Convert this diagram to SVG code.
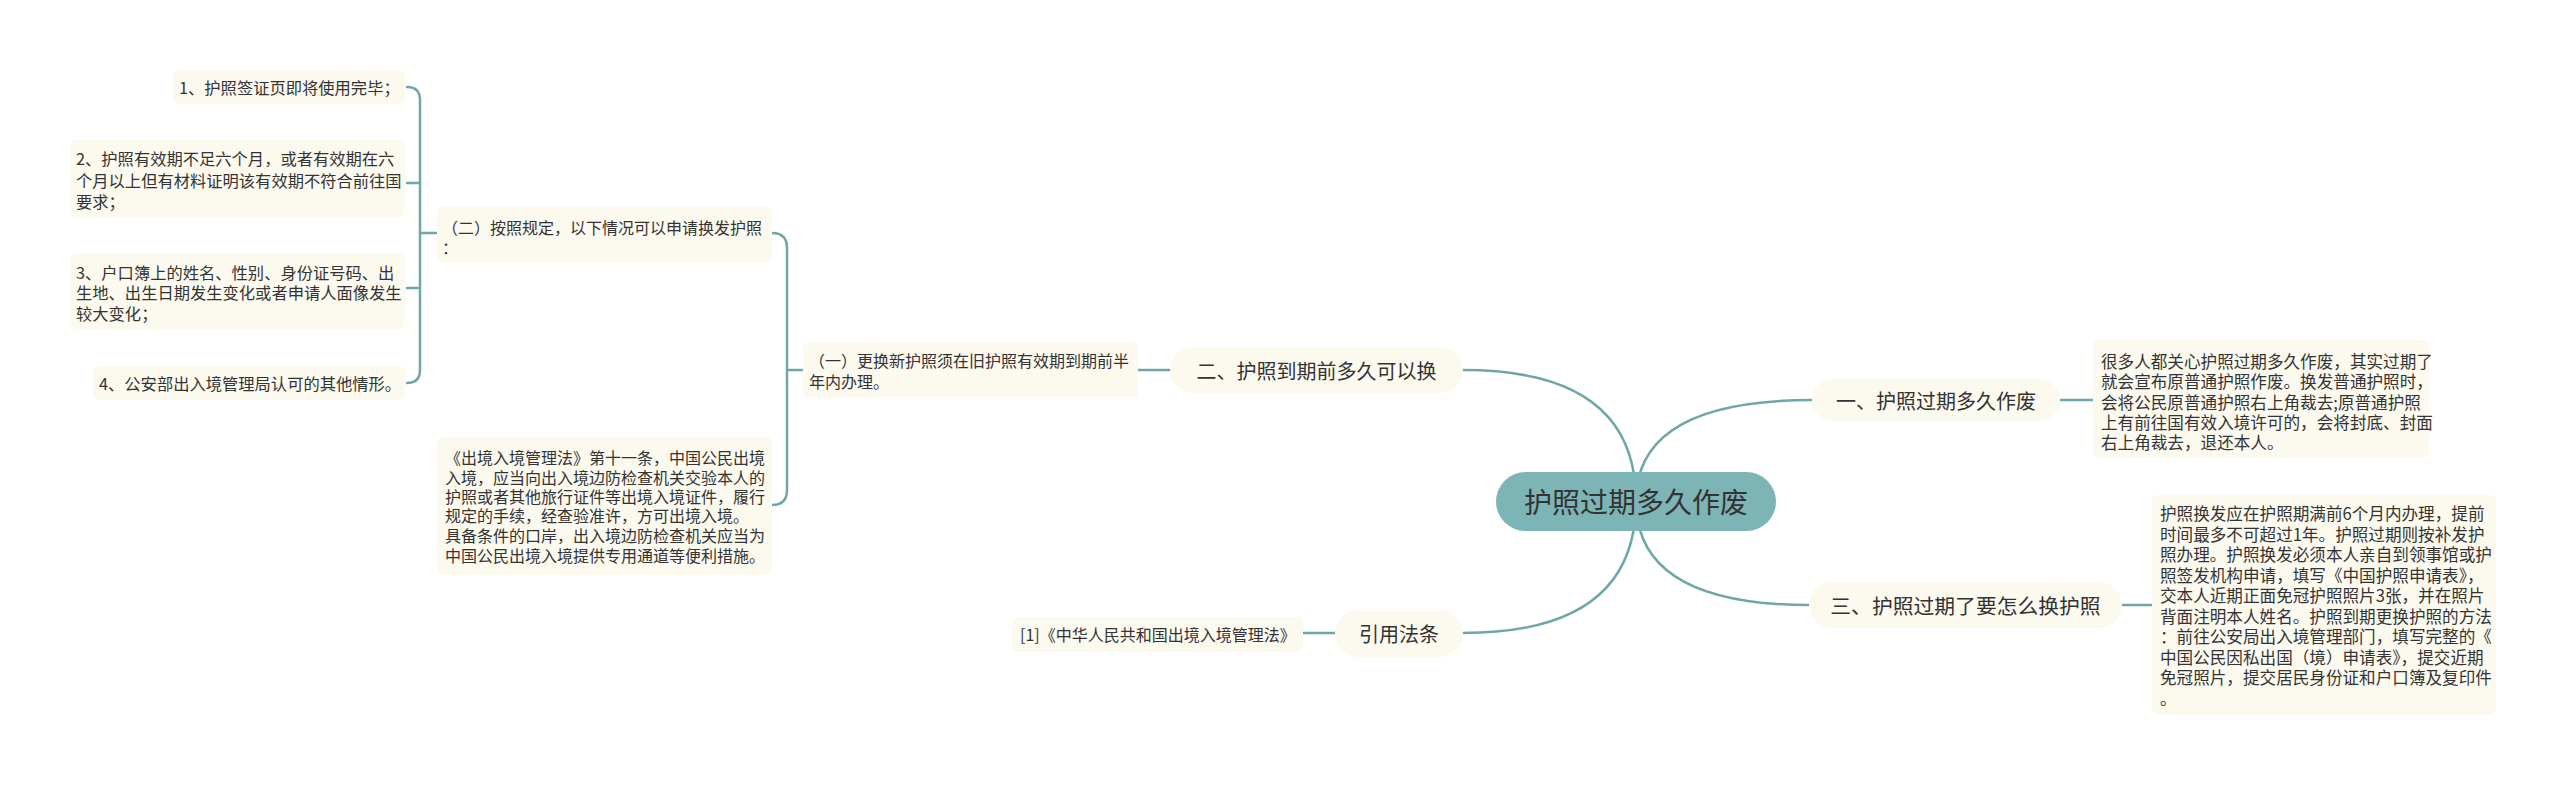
<svg xmlns="http://www.w3.org/2000/svg" width="2560" height="785" viewBox="0 0 2560 785">
<style>
text{font-family:"Noto Sans CJK SC","Noto Sans",sans-serif;fill:#333;dominant-baseline:central}
.box{fill:#fcf9ef}
.t16{font-size:16px}
.t16b{font-size:16.3px}
.t17{font-size:16.6px}
.t20{font-size:20px}
.c{stroke:#6fa7a9;stroke-width:2.5;fill:none;stroke-linecap:round}
</style>
<rect width="2560" height="785" fill="#ffffff"/>
<g id="connectors">
<path class="c" d="M1636 501 Q1636 370 1463 370"/>
<path class="c" d="M1636 501 Q1636 400 1812 400"/>
<path class="c" d="M1636 501 Q1636 605 1809 605"/>
<path class="c" d="M1636 501 Q1636 633 1463 633"/>
<path class="c" d="M2060 400 H2093"/>
<path class="c" d="M2122 605 H2152"/>
<path class="c" d="M1335 633 H1303"/>
<path class="c" d="M1170 370 H1138"/>
<path class="c" d="M803 370 H787"/>
<path class="c" d="M772 233 Q787 233 787 248 L787 490 Q787 505 772 505"/>
<path class="c" d="M437 233 H420"/>
<path class="c" d="M407 87 Q420 87 420 100 L420 370 Q420 383 407 383"/>
<path class="c" d="M407 183 H420"/>
<path class="c" d="M407 288 H420"/>
</g>
<g id="center">
<rect x="1496" y="472" width="280" height="59" rx="29.5" fill="#7db4b6"/>
<text x="1636" y="501" font-size="28" text-anchor="middle">护照过期多久作废</text>
</g>
<g id="n1">
<rect class="box" x="1812" y="378" width="248" height="44" rx="22"/>
<text class="t20" x="1936" y="400" text-anchor="middle">一、护照过期多久作废</text>
</g>
<g id="n1d">
<rect class="box" x="2093" y="340" width="336" height="118" rx="6"/>
<text class="t17" x="2101"><tspan x="2101" y="361">很多人都关心护照过期多久作废，其实过期了</tspan><tspan x="2101" y="381">就会宣布原普通护照作废。换发普通护照时，</tspan><tspan x="2101" y="401.5">会将公民原普通护照右上角裁去;原普通护照</tspan><tspan x="2101" y="422">上有前往国有效入境许可的，会将封底、封面</tspan><tspan x="2101" y="442">右上角裁去，退还本人。</tspan></text>
</g>
<g id="n3">
<rect class="box" x="1809" y="582" width="313" height="46" rx="23"/>
<text x="1965.5" y="605" font-size="20.8" text-anchor="middle">三、护照过期了要怎么换护照</text>
</g>
<g id="n3d">
<rect class="box" x="2152" y="495" width="344" height="220" rx="6"/>
<text class="t17" x="2160"><tspan x="2160" y="513">护照换发应在护照期满前6个月内办理，提前</tspan><tspan x="2160" y="533.5">时间最多不可超过1年。护照过期则按补发护</tspan><tspan x="2160" y="554">照办理。护照换发必须本人亲自到领事馆或护</tspan><tspan x="2160" y="574.5">照签发机构申请，填写《中国护照申请表》，</tspan><tspan x="2160" y="595">交本人近期正面免冠护照照片3张，并在照片</tspan><tspan x="2160" y="615.5">背面注明本人姓名。护照到期更换护照的方法</tspan><tspan x="2160" y="636">：前往公安局出入境管理部门，填写完整的《</tspan><tspan x="2160" y="656.5">中国公民因私出国（境）申请表》，提交近期</tspan><tspan x="2160" y="677">免冠照片，提交居民身份证和户口簿及复印件</tspan><tspan x="2160" y="697.5">。</tspan></text>
</g>
<g id="n2">
<rect class="box" x="1170" y="347" width="293" height="46" rx="23"/>
<text class="t20" x="1316.5" y="370" text-anchor="middle">二、护照到期前多久可以换</text>
</g>
<g id="n2a">
<rect class="box" x="803" y="342" width="335" height="56" rx="6"/>
<text class="t16"><tspan x="809" y="360">（一）更换新护照须在旧护照有效期到期前半</tspan><tspan x="809" y="381">年内办理。</tspan></text>
</g>
<g id="n2b">
<rect class="box" x="437" y="207" width="335" height="56" rx="6"/>
<text class="t16"><tspan x="442" y="227">（二）按照规定，以下情况可以申请换发护照</tspan><tspan x="442" y="247">：</tspan></text>
</g>
<g id="n2c">
<rect class="box" x="437" y="437" width="335" height="138" rx="6"/>
<text class="t16"><tspan x="445" y="457">《出境入境管理法》第十一条，中国公民出境</tspan><tspan x="445" y="477">入境，应当向出入境边防检查机关交验本人的</tspan><tspan x="445" y="496">护照或者其他旅行证件等出境入境证件，履行</tspan><tspan x="445" y="515">规定的手续，经查验准许，方可出境入境。</tspan><tspan x="445" y="535">具备条件的口岸，出入境边防检查机关应当为</tspan><tspan x="445" y="555">中国公民出境入境提供专用通道等便利措施。</tspan></text>
</g>
<g id="i1">
<rect class="box" x="173" y="70" width="232" height="34" rx="6"/>
<text class="t16b" x="179" y="87">1、护照签证页即将使用完毕；</text>
</g>
<g id="i2">
<rect class="box" x="70" y="140" width="335" height="77" rx="6"/>
<text class="t16b"><tspan x="76" y="158">2、护照有效期不足六个月，或者有效期在六</tspan><tspan x="76" y="180">个月以上但有材料证明该有效期不符合前往国</tspan><tspan x="76" y="201">要求；</tspan></text>
</g>
<g id="i3">
<rect class="box" x="70" y="253" width="335" height="76" rx="6"/>
<text class="t16b"><tspan x="76" y="272">3、户口簿上的姓名、性别、身份证号码、出</tspan><tspan x="76" y="292">生地、出生日期发生变化或者申请人面像发生</tspan><tspan x="76" y="313">较大变化；</tspan></text>
</g>
<g id="i4">
<rect class="box" x="93" y="366" width="312" height="34" rx="6"/>
<text class="t16b" x="99" y="383">4、公安部出入境管理局认可的其他情形。</text>
</g>
<g id="n4">
<rect class="box" x="1335" y="610" width="128" height="47" rx="23.5"/>
<text class="t20" x="1399" y="633" text-anchor="middle">引用法条</text>
</g>
<g id="n4a">
<rect class="box" x="1012" y="617" width="291" height="35" rx="6"/>
<text class="t16" x="1020" y="634">[1]《中华人民共和国出境入境管理法》</text>
</g>
</svg>
